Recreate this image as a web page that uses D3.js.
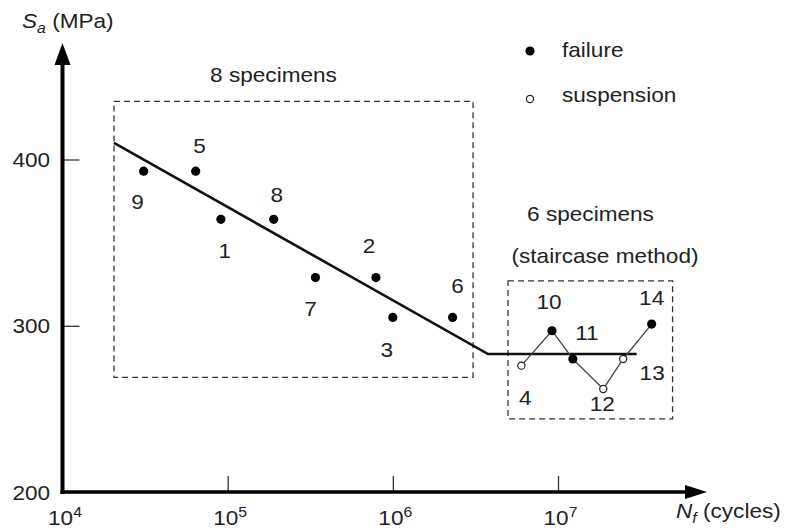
<!DOCTYPE html>
<html>
<head>
<meta charset="utf-8">
<script src="https://cdn.jsdelivr.net/npm/d3@7"></script>
<style>
  body { margin: 0; background: #fff; }
  text { font-family: "Liberation Sans", Arial, sans-serif; fill: #222; }
</style>
</head>
<body>
<script>
// specimen data: id, cycles to failure, stress amplitude (MPa), failed?
var ids      = [9, 5, 1, 8, 7, 2, 3, 6, 4, 10, 11, 12, 13, 14];
var cycles   = [3.1e4, 6.4e4, 9.1e4, 1.9e5, 3.4e5, 7.9e5, 1.0e6, 2.3e6,
                6.0e6, 9.2e6, 1.23e7, 1.88e7, 2.48e7, 3.69e7];
var stress   = [393, 393, 364, 364, 329, 329, 305, 305,
                276, 297, 280, 262, 280, 301];
var failed   = [true, true, true, true, true, true, true, true,
                false, true, true, false, false, true];

// staircase order (by id)
var staircase = [4, 10, 11, 12, 13, 14];

// fitted S-N curve
var snCycles = [2.05e4, 3.77e6, 2.99e7];
var snStress = [410, 283, 283];

// group boxes
var boxCycles = [[2.05e4, 3.06e6], [4.98e6, 4.94e7]];
var boxStress = [[269, 435], [244, 327]];

var xTicks = [1e4, 1e5, 1e6, 1e7];
var yTicks = [200, 300, 400];

// label offsets (px) for point numbers
var labelOff = {9:[-6,31], 5:[4,-25], 1:[4,31], 8:[3,-25], 7:[-5,31], 2:[-7,-32],
                3:[-6,32], 6:[5,-32], 10:[-3,-29], 11:[14,-26], 14:[0,-26],
                4:[4,32], 12:[-1,15], 13:[29,14]};

var W = 787, H = 531;
var SX = 1.13; // horizontal text stretch
var stretch = "scale(" + SX + ",1)";

var svg = d3.select("body").append("svg").attr("width", W).attr("height", H);

var x = d3.scaleLog().domain([1e4, 1e7]).range([62.5, 558]);
var y = d3.scaleLinear().domain([200, 400]).range([492, 159.5]);

var pts = ids.map(function(d, i) {
  return {id: d, n: cycles[i], s: stress[i], f: failed[i]};
});

// dashed boxes
svg.selectAll("rect.box")
  .data(boxCycles)
  .enter().append("rect")
  .attr("class", "box")
  .attr("x", function(d) { return x(d[0]); })
  .attr("width", function(d) { return x(d[1]) - x(d[0]); })
  .attr("y", function(d, i) { return y(boxStress[i][1]); })
  .attr("height", function(d, i) { return y(boxStress[i][0]) - y(boxStress[i][1]); })
  .attr("fill", "none")
  .attr("stroke", "#333")
  .attr("stroke-width", 1.3)
  .attr("stroke-dasharray", "6,4");

// S-N line
var sn = snCycles.map(function(d, i) { return [d, snStress[i]]; });
svg.append("path")
  .datum(sn)
  .attr("d", d3.line().x(function(d) { return x(d[0]); }).y(function(d) { return y(d[1]); }))
  .attr("fill", "none")
  .attr("stroke", "#111")
  .attr("stroke-width", 2.6);

// staircase path
var stairPts = staircase.map(function(id) { return pts.find(function(p) { return p.id === id; }); });
svg.append("path")
  .datum(stairPts)
  .attr("d", d3.line().x(function(d) { return x(d.n); }).y(function(d) { return y(d.s); }))
  .attr("fill", "none")
  .attr("stroke", "#444")
  .attr("stroke-width", 1.3);

// axes
var xAxis = svg.append("g")
  .attr("transform", "translate(0," + y(200) + ")")
  .call(d3.axisBottom(x).tickValues(xTicks).tickSizeInner(-16).tickSizeOuter(0).tickPadding(20).tickFormat(""));
var yAxis = svg.append("g")
  .attr("transform", "translate(" + x(1e4) + ",0)")
  .call(d3.axisLeft(y).tickValues(yTicks).tickSizeInner(-17).tickSizeOuter(0).tickPadding(11).tickFormat(d3.format("d")));

[xAxis, yAxis].forEach(function(a) {
  a.select(".domain").remove();
  a.selectAll("line").attr("stroke", "#333").attr("stroke-width", 1.3);
  a.selectAll("text").attr("font-size", 20).attr("fill", "#222")
   .attr("font-family", "Liberation Sans, Arial, sans-serif");
});
yAxis.selectAll("text").attr("transform", stretch).attr("dy", "0.36em");

xAxis.selectAll(".tick text").each(function(d) {
  var t = d3.select(this);
  t.text(null).attr("transform", "translate(2,0) " + stretch).attr("y", 33).attr("dy", null);
  t.append("tspan").text("10");
  t.append("tspan").attr("font-size", 14).attr("dy", -8).text(Math.round(Math.log10(d)));
});

// thick axis lines with arrows
svg.append("line")
  .attr("x1", x(1e4)).attr("x2", x(1e4))
  .attr("y1", y(200) + 2).attr("y2", 60)
  .attr("stroke", "#000").attr("stroke-width", 4);
svg.append("path")
  .attr("d", "M" + x(1e4) + ",43 l8,22 l-16,0 z")
  .attr("fill", "#000");
svg.append("line")
  .attr("x1", x(1e4) - 2).attr("x2", 690)
  .attr("y1", y(200)).attr("y2", y(200))
  .attr("stroke", "#000").attr("stroke-width", 3.6);
svg.append("path")
  .attr("d", "M707," + y(200) + " l-22,-7 l0,14 z")
  .attr("fill", "#000");

// points
svg.selectAll("circle.pt")
  .data(pts)
  .enter().append("circle")
  .attr("class", "pt")
  .attr("cx", function(d) { return x(d.n); })
  .attr("cy", function(d) { return y(d.s); })
  .attr("r", function(d) { return d.f ? 4.6 : 3.6; })
  .attr("fill", function(d) { return d.f ? "#000" : "#fff"; })
  .attr("stroke", "#222")
  .attr("stroke-width", function(d) { return d.f ? 0 : 1.2; });

// point numbers
svg.selectAll("text.lbl")
  .data(pts)
  .enter().append("text")
  .attr("class", "lbl")
  .attr("transform", function(d) {
    var o = labelOff[d.id];
    return "translate(" + (x(d.n) + o[0]) + "," + (y(d.s) + o[1]) + ") " + stretch;
  })
  .attr("text-anchor", "middle")
  .attr("dy", "0.36em")
  .attr("font-size", 20)
  .text(function(d) { return d.id; });

// annotations
function note(tx, ty, str, anchor) {
  return svg.append("text")
    .attr("transform", "translate(" + tx + "," + ty + ") " + stretch)
    .attr("text-anchor", anchor || "middle")
    .attr("font-size", 20)
    .text(str);
}
note(273.5, 82, "8 specimens");
note(590.5, 221, "6 specimens");
note(605, 263, "(staircase method)");

// legend
svg.append("circle").attr("cx", 530).attr("cy", 51).attr("r", 4.6).attr("fill", "#000");
svg.append("circle").attr("cx", 530).attr("cy", 99).attr("r", 3.6)
  .attr("fill", "#fff").attr("stroke", "#222").attr("stroke-width", 1.2);
note(562, 57, "failure", "start");
note(562, 102, "suspension", "start");

// axis titles
var yt = svg.append("text").attr("transform", "translate(22,28) " + stretch).attr("font-size", 20);
yt.append("tspan").attr("font-style", "italic").text("S");
yt.append("tspan").attr("font-style", "italic").attr("font-size", 14).attr("dy", 5).text("a");
yt.append("tspan").attr("dy", -5).text(" (MPa)");

var xt = svg.append("text").attr("transform", "translate(676,518) " + stretch).attr("font-size", 20);
xt.append("tspan").attr("font-style", "italic").text("N");
xt.append("tspan").attr("font-style", "italic").attr("font-size", 14).attr("dy", 5).text("f");
xt.append("tspan").attr("dy", -5).text("  (cycles)");
</script>
</body>
</html>
